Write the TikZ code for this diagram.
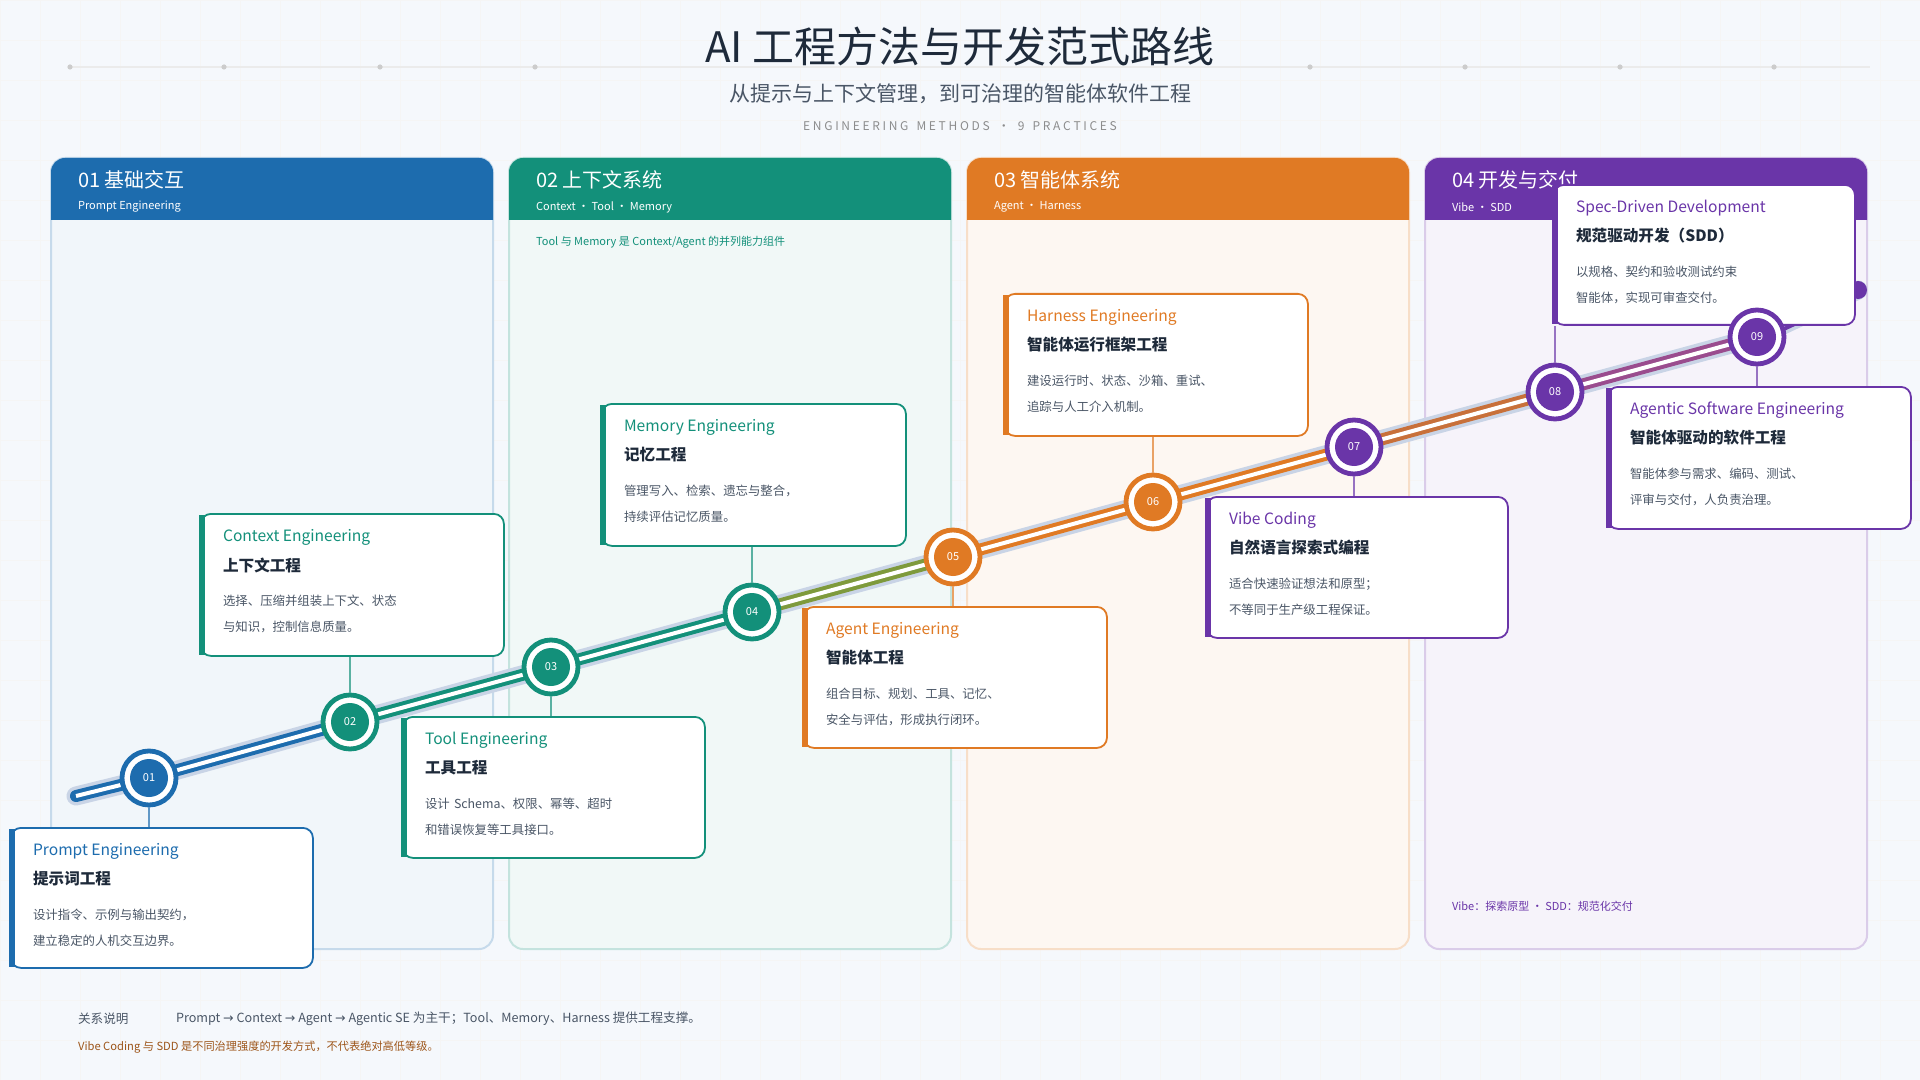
\documentclass[tikz,border=0pt]{standalone}
\usepackage{fontspec}
\setmainfont{Noto Sans CJK SC}
\newfontfamily\sym{DejaVu Sans}
\usetikzlibrary{arrows.meta}
\definecolor{cA}{HTML}{1D6CAE}
\definecolor{cB}{HTML}{13907A}
\definecolor{cC}{HTML}{E07A24}
\definecolor{cD}{HTML}{6A35A8}
\definecolor{cOl}{HTML}{7E9A3C}
\definecolor{cBr}{HTML}{C8703A}
\definecolor{cPu}{HTML}{9A4C8E}
\definecolor{ink}{HTML}{1E2A3A}
\definecolor{gry}{HTML}{4A5666}
\definecolor{bg}{HTML}{F5F8FC}
\definecolor{halo}{HTML}{C9D4E6}
\tikzset{
  colbg/.style={draw=#1!25, fill=#1!6, line width=1pt, rounded corners=7pt},
  hdr/.style={fill=#1, rounded corners=7pt},
  card/.style={draw=#1, fill=white, line width=0.9pt, rounded corners=5pt},
  en/.style={anchor=west, text=#1, font=\fontsize{7.8}{9}\selectfont},
  zh/.style={anchor=west, text=ink, font=\fontsize{7.8}{9}\selectfont\bfseries},
  ds/.style={anchor=west, text=gry, font=\fontsize{6.2}{8}\selectfont},
  seg/.style={line width=6pt, draw=#1, line cap=round},
  ring/.style={circle, fill=white, draw=#1, line width=2.4pt, minimum size=27pt, inner sep=0},
  num/.style={circle, fill=#1, minimum size=19pt, text=white, font=\fontsize{5.5}{7}\selectfont, inner sep=0},
  link/.style={draw=#1!70, line width=0.8pt},
}
\newcommand\mkcard[9]{%
  \node[card=#6, minimum width={0.5*(#4-#2)}, minimum height={0.5*(#5-#3)}, inner sep=0, anchor=north west] (#1) at (#2,#3) {};
  \draw[#6, line width=3pt] ([xshift=1pt,yshift=-1pt]#1.north west) -- ([xshift=1pt,yshift=1pt]#1.south west);
  \node[en=#6] (#1e) at (#2+16,#3+24) {#7};
  \node[zh] (#1z) at (#2+16,#3+52) {#8};
  \node[ds, align=left, text width=140pt] (#1d) at (#2+16,#3+101) {#9};
}
\begin{document}
\begin{tikzpicture}[x=0.5pt,y=-0.5pt]
\fill[bg] (0,0) rectangle (1920,1080);
\useasboundingbox (0,0) rectangle (1920,1080);
\foreach \i in {0,40,...,1920} \draw[black!4, line width=0.4pt] (\i,0) -- (\i,1080);
\foreach \i in {0,40,...,1080} \draw[black!4, line width=0.4pt] (0,\i) -- (1920,\i);
\draw[black!8, line width=0.6pt] (70,67) -- (1870,67);
\foreach \x in {70,224,380,535,1310,1465,1620,1774} \fill[black!20] (\x,67) circle (1.3pt);
\node[text=ink, font=\fontsize{21}{24}\selectfont] (title) at (960,47) {AI 工程方法与开发范式路线};
\node[text=gry, font=\fontsize{10.5}{12}\selectfont] (sub) at (960,94) {从提示与上下文管理，到可治理的智能体软件工程};
\node[text=black!45, font=\fontsize{6}{7}\selectfont] (eng) at (960,126) {E N G I N E E R I N G \ \ M E T H O D S \ \ · \ \ 9 \ \ P R A C T I C E S};
\foreach \x/\c in {51/cA,509/cB,967/cC,1425/cD}{
  \draw[colbg=\c] (\x,158) rectangle (\x+442,949);
  \begin{scope}
  \clip (\x,158) rectangle (\x+442,220);
  \fill[hdr=\c] (\x,158) rectangle (\x+442,260);
  \end{scope}
}
\node[anchor=west, text=white, font=\fontsize{10}{12}\selectfont] (h1) at (71,180) {01 基础交互};
\node[anchor=west, text=white, font=\fontsize{5.5}{7}\selectfont] (s1) at (71,207) {Prompt Engineering};
\node[anchor=west, text=white, font=\fontsize{10}{12}\selectfont] (h2) at (529,180) {02 上下文系统};
\node[anchor=west, text=white, font=\fontsize{5.5}{7}\selectfont] (s2) at (529,207) {Context · Tool · Memory};
\node[anchor=west, text=white, font=\fontsize{10}{12}\selectfont] (h3) at (987,180) {03 智能体系统};
\node[anchor=west, text=white, font=\fontsize{5.5}{7}\selectfont] (s3) at (987,207) {Agent · Harness};
\node[anchor=west, text=white, font=\fontsize{10}{12}\selectfont] (h4) at (1445,180) {04 开发与交付};
\node[anchor=west, text=white, font=\fontsize{5.5}{7}\selectfont] (s4) at (1445,207) {Vibe · SDD};
\node[anchor=west, text=cB, font=\fontsize{5.5}{7}\selectfont] (n2) at (529,242) {Tool 与 Memory 是 Context/Agent 的并列能力组件};
\node[anchor=west, text=cD, font=\fontsize{5.5}{7}\selectfont] (n4) at (1445,906) {Vibe：探索原型 · SDD：规范化交付};
\coordinate (st) at (76,796);
\coordinate (p1) at (149,778);
\coordinate (p2) at (350,722);
\coordinate (p3) at (551,667);
\coordinate (p4) at (752,612);
\coordinate (p5) at (953,557);
\coordinate (p6) at (1153,502);
\coordinate (p7) at (1354,447);
\coordinate (p8) at (1555,392);
\coordinate (p9) at (1757,337);
\coordinate (en) at (1858,290);
\draw[halo, line width=9.5pt, line cap=round] (st) -- (p1) -- (p2) -- (p3) -- (p4) -- (p5) -- (p6) -- (p7) -- (p8) -- (p9) -- (en);
\foreach \a/\b/\c in {st/p1/cA,p1/p2/cA,p2/p3/cB,p3/p4/cB,p4/p5/cOl,p5/p6/cC,p6/p7/cC,p7/p8/cBr,p8/p9/cPu,p9/en/cD}
  \draw[seg=\c] (\a) -- (\b);
\draw[white, line width=2pt] (st) -- (p1) -- (p2) -- (p3) -- (p4) -- (p5) -- (p6) -- (p7) -- (p8) -- (p9) -- (en);
\fill[cD] (en) circle (4.5pt);
\mkcard{c1}{10}{827}{312}{967}{cA}{Prompt Engineering}{提示词工程}{设计指令、示例与输出契约，\\[5pt]建立稳定的人机交互边界。}
\mkcard{c2}{200}{513}{503}{655}{cB}{Context Engineering}{上下文工程}{选择、压缩并组装上下文、状态\\[5pt]与知识，控制信息质量。}
\mkcard{c3}{402}{716}{704}{857}{cB}{Tool Engineering}{工具工程}{设计 Schema、权限、幂等、超时\\[5pt]和错误恢复等工具接口。}
\mkcard{c4}{601}{403}{905}{545}{cB}{Memory Engineering}{记忆工程}{管理写入、检索、遗忘与整合，\\[5pt]持续评估记忆质量。}
\mkcard{c5}{803}{606}{1106}{747}{cC}{Agent Engineering}{智能体工程}{组合目标、规划、工具、记忆、\\[5pt]安全与评估，形成执行闭环。}
\mkcard{c6}{1004}{293}{1307}{435}{cC}{Harness Engineering}{智能体运行框架工程}{建设运行时、状态、沙箱、重试、\\[5pt]追踪与人工介入机制。}
\mkcard{c7}{1206}{496}{1507}{637}{cD}{Vibe Coding}{自然语言探索式编程}{适合快速验证想法和原型；\\[5pt]不等同于生产级工程保证。}
\mkcard{c8}{1553}{184}{1854}{324}{cD}{Spec-Driven Development}{规范驱动开发（SDD）}{以规格、契约和验收测试约束\\[5pt]智能体，实现可审查交付。}
\mkcard{c9}{1607}{386}{1910}{528}{cD}{Agentic Software Engineering}{智能体驱动的软件工程}{智能体参与需求、编码、测试、\\[5pt]评审与交付，人负责治理。}
\foreach \n/\p/\c/\t in {n01/p1/cA/01,n02/p2/cB/02,n03/p3/cB/03,n04/p4/cB/04,n05/p5/cC/05,n06/p6/cC/06,n07/p7/cD/07,n08/p8/cD/08,n09/p9/cD/09}{
  \node[ring=\c] (\n) at (\p) {};
  \node[num=\c] (\n i) at (\p) {\t};
}
\draw[link=cA] (n01.south) -- (n01.south |- c1.north);
\draw[link=cB] (n02.north) -- (n02.north |- c2.south);
\draw[link=cB] (n03.south) -- (n03.south |- c3.north);
\draw[link=cB] (n04.north) -- (n04.north |- c4.south);
\draw[link=cC] (n05.south) -- (n05.south |- c5.north);
\draw[link=cC] (n06.north) -- (n06.north |- c6.south);
\draw[link=cD] (n07.south) -- (n07.south |- c7.north);
\draw[link=cD] (n08.north) -- (n08.north |- c8.south);
\draw[link=cD] (n09.south) -- (n09.south |- c9.north);
\node[anchor=west, text=gry, font=\fontsize{6.3}{8}\selectfont] (f0) at (71,1019) {关系说明};
\node[anchor=west, text=gry, font=\fontsize{6.3}{8}\selectfont] (f1) at (169,1019) {Prompt {\sym→} Context {\sym→} Agent {\sym→} Agentic SE 为主干；Tool、Memory、Harness 提供工程支撑。};
\node[anchor=west, text=cC!70!black, font=\fontsize{5.6}{7}\selectfont] (f2) at (71,1047) {Vibe Coding 与 SDD 是不同治理强度的开发方式，不代表绝对高低等级。};
\end{tikzpicture}
\end{document}
